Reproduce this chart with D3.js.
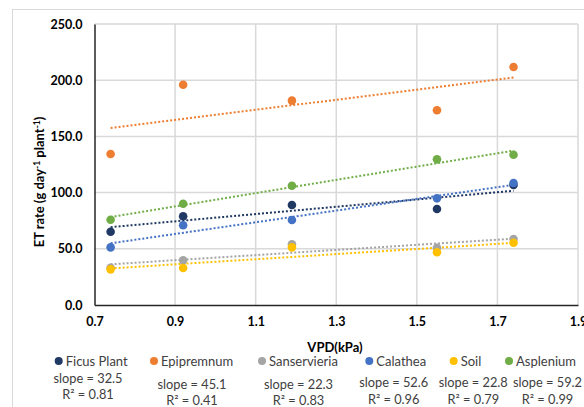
<!DOCTYPE html>
<html>
<head>
<meta charset="utf-8">
<script src="https://cdn.jsdelivr.net/npm/d3@7"></script>
<style>
  html, body { margin: 0; padding: 0; background: #fff; }
  svg { display: block; }
  text { font-family: Lato, "Open Sans", sans-serif; }
</style>
</head>
<body>
<svg id="chart" width="584" height="407"></svg>
<script>
// ---- data ----
const vpd = [0.74, 0.92, 1.19, 1.55, 1.74];
const seriesNames = ["Ficus Plant", "Epipremnum", "Sanservieria", "Calathea", "Soil", "Asplenium"];
const ficus = [65.2, 78.9, 89.0, 85.4, 106.8];
const epipremnum = [134.3, 196.0, 181.8, 173.2, 211.7];
const sanservieria = [33.2, 39.8, 54.0, 51.0, 58.7];
const calathea = [51.3, 70.9, 75.6, 94.9, 108.6];
const soil = [31.7, 32.9, 51.3, 46.9, 55.4];
const asplenium = [75.9, 90.1, 106.1, 129.6, 133.7];
const slopeLabels = ["32.5", "45.1", "22.3", "52.6", "22.8", "59.2"];
const r2Labels = ["0.81", "0.41", "0.83", "0.96", "0.79", "0.99"];
const xTicks = [0.7, 0.9, 1.1, 1.3, 1.5, 1.7, 1.9];
const yTicks = [0, 50, 100, 150, 200, 250];

const seriesValues = [ficus, epipremnum, sanservieria, calathea, soil, asplenium];
const colors = ["#203864", "#ED7D31", "#A5A5A5", "#4472C4", "#FFC000", "#70AD47"];

const svg = d3.select("#chart");

// outer chart border
svg.append("rect").attr("x", 12.5).attr("y", 9.5).attr("width", 640).attr("height", 460)
  .attr("fill", "none").attr("stroke", "#d9d9d9").attr("stroke-width", 1);

const x = d3.scaleLinear().domain([0.7, 1.9]).range([94.5, 578]);
const y = d3.scaleLinear().domain([0, 250]).range([305, 24]);

// gridlines
svg.append("g").selectAll("line").data(yTicks.filter(d => d > 0)).join("line")
  .attr("x1", x(0.7)).attr("x2", x(1.9)).attr("y1", d => y(d)).attr("y2", d => y(d))
  .attr("stroke", "#d9d9d9").attr("stroke-width", 1.5);
svg.append("g").selectAll("line").data(xTicks.filter(d => d > 0.7)).join("line")
  .attr("x1", d => x(d)).attr("x2", d => x(d)).attr("y1", y(0)).attr("y2", y(250))
  .attr("stroke", "#d9d9d9").attr("stroke-width", 1.5);

// axes
const xAxis = d3.axisBottom(x).tickValues(xTicks).tickFormat(d3.format(".1f")).tickSize(0).tickPadding(12);
const yAxis = d3.axisLeft(y).tickValues(yTicks).tickFormat(d3.format(".1f")).tickSize(0).tickPadding(12);
const gx = svg.append("g").attr("transform", `translate(0,${y(0)})`).call(xAxis);
const gy = svg.append("g").attr("transform", `translate(${x(0.7)},0)`).call(yAxis);
[gx, gy].forEach(g => {
  g.select(".domain").attr("stroke", "#262626").attr("stroke-width", 1.5);
  g.selectAll("text").attr("font-family", "Lato, sans-serif").attr("font-weight", "bold")
    .attr("font-size", 12.5).attr("fill", "#000");
});

// trendlines (least squares)
function fit(xs, ys) {
  const mx = d3.mean(xs), my = d3.mean(ys);
  let sxy = 0, sxx = 0;
  xs.forEach((xi, i) => { sxy += (xi - mx) * (ys[i] - my); sxx += (xi - mx) ** 2; });
  const b = sxy / sxx;
  return { b, a: my - b * mx };
}
const xMin = d3.min(vpd), xMax = d3.max(vpd);
seriesValues.forEach((vals, i) => {
  const f = fit(vpd, vals);
  svg.append("line")
    .attr("x1", x(xMin)).attr("y1", y(f.a + f.b * xMin))
    .attr("x2", x(xMax)).attr("y2", y(f.a + f.b * xMax))
    .attr("stroke", colors[i]).attr("stroke-width", 2).attr("stroke-dasharray", "2,2");
});

// markers
seriesValues.forEach((vals, i) => {
  svg.append("g").selectAll("circle").data(vals).join("circle")
    .attr("cx", (d, j) => x(vpd[j])).attr("cy", d => y(d)).attr("r", 4.3)
    .attr("fill", colors[i]);
});

// axis titles
svg.append("text").attr("x", 335).attr("y", 352).attr("text-anchor", "middle")
  .attr("font-weight", "bold").attr("font-size", 13).text("VPD(kPa)");

const yt = svg.append("text").attr("transform", "translate(44,182) rotate(-90)")
  .attr("text-anchor", "middle").attr("font-weight", "bold").attr("font-size", 13);
yt.append("tspan").text("ET rate (g day");
yt.append("tspan").attr("dy", -4).attr("font-size", 8.5).text("-1");
yt.append("tspan").attr("dy", 4).text(" plant");
yt.append("tspan").attr("dy", -4).attr("font-size", 8.5).text("-1");
yt.append("tspan").attr("dy", 4).text(")");

// legend
const legX = [58.7, 154, 262, 369.3, 453.7, 509];
const slopeX = [88, 192, 298.5, 393.7, 473.3, 547.5];
const slopeBase = [382.5, 388.5, 388.5, 387, 387, 387];
const r2Base = [399, 404.5, 404.5, 404, 404, 404];
seriesNames.forEach((name, i) => {
  svg.append("circle").attr("cx", legX[i]).attr("cy", 361).attr("r", 4).attr("fill", colors[i]);
  svg.append("text").attr("x", legX[i] + 7).attr("y", 365.5).attr("font-size", 13)
    .attr("fill", "#404040").text(name);
  svg.append("text").attr("x", slopeX[i]).attr("y", slopeBase[i]).attr("text-anchor", "middle")
    .attr("font-size", 12.8).attr("fill", "#404040").text("slope = " + slopeLabels[i]);
  svg.append("text").attr("x", slopeX[i]).attr("y", r2Base[i]).attr("text-anchor", "middle")
    .attr("font-size", 12.8).attr("fill", "#404040").text("R² = " + r2Labels[i]);
});
</script>
</body>
</html>
